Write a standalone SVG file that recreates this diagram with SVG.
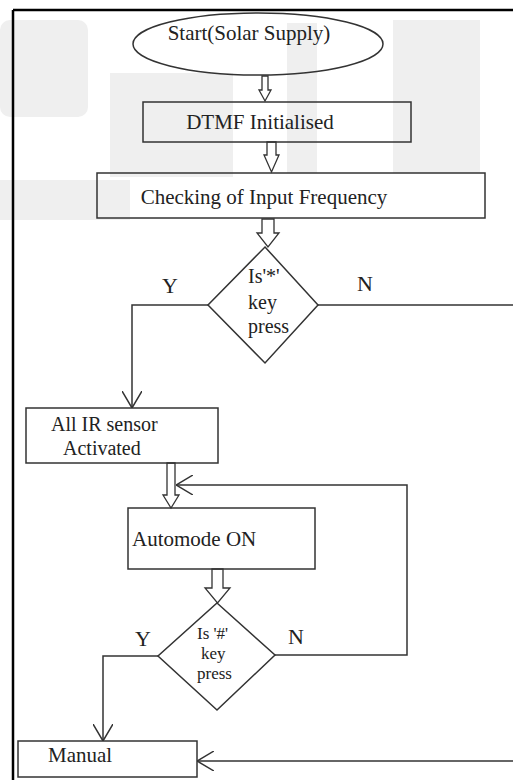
<svg xmlns="http://www.w3.org/2000/svg" width="513" height="780" viewBox="0 0 513 780">
<style>
.t{font-family:"Liberation Serif","Times New Roman",serif;fill:#222;}
.box{fill:none;stroke:#333;stroke-width:1.5;}
.blk{fill:#fff;stroke:#333;stroke-width:1.3;stroke-linejoin:miter;}
.ln{fill:none;stroke:#333;stroke-width:1.5;}
.wm{fill:#efefef;}
</style>
<defs>
<marker id="open" viewBox="0 0 17 20" refX="17" refY="10" markerWidth="17" markerHeight="20" markerUnits="userSpaceOnUse" orient="auto">
<path d="M0,0 L17,10 L0,20" fill="none" stroke="#333" stroke-width="1.5"/>
</marker>
</defs>
<rect width="513" height="780" fill="#fff"/>
<g id="watermark">
<rect class="wm" x="0" y="20" width="88" height="97" rx="10"/>
<rect class="wm" x="110" y="73" width="123" height="104"/>
<rect class="wm" x="287" y="23" width="30" height="150"/>
<rect class="wm" x="393" y="20" width="87" height="153"/>
<rect class="wm" x="0" y="180" width="130" height="40"/>
</g>
<g id="frame">
<line x1="13" y1="10" x2="513" y2="10" stroke="#000" stroke-width="2.5"/>
<line x1="13" y1="10" x2="13" y2="780" stroke="#000" stroke-width="2.5"/>
</g>
<g id="connectors">
<polygon class="blk" points="262,76 268,76 268,90 271,90 265,101 259,90 262,90"/>
<polygon class="blk" points="267,142 276,142 276,155 279,155 271.5,172 264,155 267,155"/>
<polygon class="blk" points="262,219 274,219 274,233 279,233 268,247 257,233 262,233"/>
<polygon class="blk" points="167,463 175,463 175,495 179,495 171,508 163,495 167,495"/>
<polygon class="blk" points="212,569 223,569 223,588 230,588 217.5,603 205,588 212,588"/>
<path class="ln" d="M208,305 H132 V408" marker-end="url(#open)"/>
<path class="ln" d="M318,305 H513"/>
<path class="ln" d="M275,655 H407 V485 H176" marker-end="url(#open)"/>
<path class="ln" d="M158,656 H103 V741" marker-end="url(#open)"/>
<path class="ln" d="M513,761 H197" marker-end="url(#open)"/>
</g>
<g id="start">
<ellipse class="box" cx="258" cy="44" rx="125" ry="31"/>
<text class="t" x="249" y="40" font-size="21" text-anchor="middle">Start(Solar Supply)</text>
</g>
<g id="dtmf">
<rect class="box" x="143" y="102" width="268" height="40"/>
<text class="t" x="260" y="129" font-size="21" text-anchor="middle">DTMF Initialised</text>
</g>
<g id="checking">
<rect class="box" x="97" y="173" width="388" height="45"/>
<text class="t" x="264" y="204" font-size="21" text-anchor="middle">Checking of Input Frequency</text>
</g>
<g id="decision1">
<polygon class="box" points="265,247 318,305 265,363 208,305"/>
<text class="t" font-size="20"><tspan x="248" y="283">Is'*'</tspan><tspan x="248" y="309">key</tspan><tspan x="248" y="333">press</tspan></text>
<text class="t" x="162" y="293" font-size="22">Y</text>
<text class="t" x="357" y="291" font-size="22">N</text>
</g>
<g id="allir">
<rect class="box" x="26" y="408" width="192" height="55"/>
<text class="t" font-size="20"><tspan x="51" y="431">All IR sensor</tspan><tspan x="63" y="455">Activated</tspan></text>
</g>
<g id="automode">
<rect class="box" x="128" y="508" width="187" height="61"/>
<text class="t" x="132" y="546" font-size="21">Automode ON</text>
</g>
<g id="decision2">
<polygon class="box" points="217,603 275,655 217,710 158,656"/>
<text class="t" font-size="17"><tspan x="197" y="639">Is '#'</tspan><tspan x="201" y="659">key</tspan><tspan x="197" y="679">press</tspan></text>
<text class="t" x="135" y="646" font-size="22">Y</text>
<text class="t" x="288" y="644" font-size="22">N</text>
</g>
<g id="manual">
<rect class="box" x="18" y="741" width="179" height="36"/>
<text class="t" x="48" y="762" font-size="21">Manual</text>
</g>
</svg>
